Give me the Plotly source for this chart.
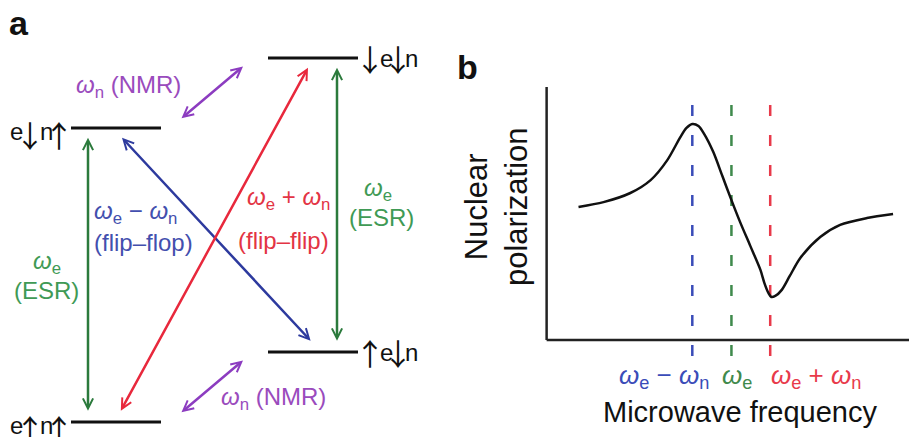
import plotly.graph_objects as go

W, H = 909, 437
FONT = "Liberation Sans, Arial, sans-serif"
ARROW_FONT = "Noto Sans CJK JP, DejaVu Sans, sans-serif"

# ---------------- Panel a: four electron/nuclear spin states ----------------
# Energies in units of the nuclear Zeeman splitting
omega_n = 1.0
omega_e = 4.2
state_labels = ["e↑n↑", "↑e↓n", "e↓n↑", "↓e↓n"]
state_energy = [0.0, omega_n, omega_e, omega_e + omega_n]
state_column = ["left", "right", "left", "right"]

# Transitions between the states (indices into the state lists)
trans_from = [0, 1, 1, 0, 2, 0]
trans_to = [2, 3, 2, 3, 3, 1]
trans_kind = ["ESR", "ESR", "flip-flop", "flip-flip", "NMR", "NMR"]
trans_x_from = [88, 337, 312, 120, 180, 180]
trans_x_to = [88, 337, 122, 308, 243, 243]

COLORS = {
    "ESR": "#2b7a3c",
    "flip-flop": "#2d3a9e",
    "flip-flip": "#e8283c",
    "NMR": "#8c3cc0",
}
TEXT_COLORS = {
    "ESR": "#3f9a55",
    "flip-flop": "#434fae",
    "flip-flip": "#e33444",
    "NMR": "#9a4bbd",
}

# ---------------- Panel b: DNP enhancement profile ----------------
freq = [8.8, 15.7, 23.1, 28.7, 33.3, 36.9, 38.6, 40.2, 41.9, 43.5, 46.0, 48.5,
        51.0, 53.4, 56.2, 59.0, 60.1, 61.2, 62.0, 63.1, 64.9, 67.1, 70.0, 75.5,
        81.0, 88.4, 95.6]
polarization = [52.6, 54.5, 58.1, 63.2, 71.1, 80.2, 83.8, 85.4, 84.6, 81.4, 74.3, 64.8,
                55.3, 46.6, 37.2, 27.7, 22.5, 18.6, 17.0, 17.4, 19.8, 25.3, 32.4,
                40.7, 45.5, 48.2, 49.8]
res_freq = [40.2, 51.0, 61.7]
res_labels = ["<i>ω</i><sub>e</sub> − <i>ω</i><sub>n</sub>",
              "<i>ω</i><sub>e</sub>",
              "<i>ω</i><sub>e</sub> + <i>ω</i><sub>n</sub>"]
RES_COLORS = ["#3a4cb8", "#3f8a4c", "#e83a4a"]


def px(x):
    return x / W


def py(y):
    return 1 - y / H


fig = go.Figure()

# Panel a coordinate frame: x in layout units, y = energy
E_BOTTOM = 422.0
E_SCALE = 70.0
fig.update_layout(
    xaxis=dict(domain=[0, 0.5], range=[0, W / 2], visible=False, fixedrange=True),
    yaxis=dict(domain=[0, 1], range=[(E_BOTTOM - H) / E_SCALE, E_BOTTOM / E_SCALE],
               visible=False, fixedrange=True),
)

col_span = {"left": (71, 161), "right": (268, 358)}
# character offsets of the state labels, measured from the nearest end of the level
char_offsets = {"left": [-55, -41, -25, -12], "right": [12, 28, 40, 53]}
letter_shift = {"left": -3, "right": 0}
arrow_shift = {"left": -6, "right": 0}
shapes = []
annotations = []

for lab, en, col in zip(state_labels, state_energy, state_column):
    x0, x1 = col_span[col]
    shapes.append(dict(type="line", xref="x", yref="y", x0=x0, x1=x1, y0=en, y1=en,
                       line=dict(color="#111111", width=3)))
    anchor = x0 if col == "left" else x1
    for ch, off in zip(lab, char_offsets[col]):
        is_arrow = ch in "↑↓"
        annotations.append(dict(
            x=anchor + off, y=en, xref="x", yref="y", text=ch,
            xanchor="center", yanchor="middle", showarrow=False,
            yshift=arrow_shift[col] if is_arrow else letter_shift[col],
            font=dict(family=ARROW_FONT if is_arrow else FONT,
                      size=30 if is_arrow else 24, color="#111111")))

for i0, i1, kind, xa, xb in zip(trans_from, trans_to, trans_kind, trans_x_from, trans_x_to):
    gap = 0.12 if kind == "NMR" else 0.14
    annotations.append(dict(
        x=xb, y=state_energy[i1] - gap, xref="x", yref="y",
        ax=xa, ay=state_energy[i0] + gap, axref="x", ayref="y",
        text="", showarrow=True, arrowside="end+start",
        arrowhead=5, startarrowhead=5, arrowsize=0.8, startarrowsize=0.8,
        arrowwidth=2.5, arrowcolor=COLORS[kind], standoff=0, startstandoff=0))

# Transition labels
w_e = "<i>ω</i><sub>e</sub>"
w_n = "<i>ω</i><sub>n</sub>"
trans_text = [
    (w_n + " (NMR)", 128, 86, "NMR"),
    (w_n + " (NMR)", 273, 398, "NMR"),
    (w_e + " − " + w_n, 135, 212, "flip-flop"),
    ("(flip–flop)", 143, 242, "flip-flop"),
    (w_e + " + " + w_n, 288, 198, "flip-flip"),
    ("(flip–flip)", 283, 240, "flip-flip"),
    (w_e, 378, 190, "ESR"),
    ("(ESR)", 381, 218, "ESR"),
    (w_e, 47, 262, "ESR"),
    ("(ESR)", 46, 290, "ESR"),
]
for txt, x, y, kind in trans_text:
    annotations.append(dict(x=px(x), y=py(y), xref="paper", yref="paper", text=txt,
                            xanchor="center", yanchor="middle", showarrow=False,
                            font=dict(family=FONT, size=24, color=TEXT_COLORS[kind])))

# Panel letters
annotations.append(dict(x=px(19), y=py(23), xref="paper", yref="paper", text="<b>a</b>",
                        xanchor="center", yanchor="middle", showarrow=False,
                        font=dict(family=FONT, size=34, color="#111111")))
annotations.append(dict(x=px(467), y=py(67), xref="paper", yref="paper", text="<b>b</b>",
                        xanchor="center", yanchor="middle", showarrow=False,
                        font=dict(family=FONT, size=34, color="#111111")))

# ---------------- Panel b axes ----------------
fig.update_layout(
    xaxis2=dict(domain=[543 / W, 1], range=[-1, 100], anchor="y2", visible=False,
                fixedrange=True),
    yaxis2=dict(domain=[py(362), py(87)], range=[-8.7, 100], anchor="x2", visible=False,
                fixedrange=True),
)

# axis lines
shapes.append(dict(type="line", xref="x2", yref="y2", x0=0, x1=0, y0=0, y1=100,
                   line=dict(color="#222222", width=2.5)))
shapes.append(dict(type="line", xref="x2", yref="y2", x0=0, x1=100, y0=0, y1=0,
                   line=dict(color="#222222", width=2.5)))

# resonance positions
for rx, c in zip(res_freq, RES_COLORS):
    shapes.append(dict(type="line", xref="x2", yref="y2", x0=rx, x1=rx, y0=92.9, y1=-7.1,
                       line=dict(color=c, width=2.5, dash="11px,19px"), layer="below"))

fig.add_trace(go.Scatter(x=freq, y=polarization, xaxis="x2", yaxis="y2", mode="lines",
                         line=dict(color="#111111", width=2.5, shape="spline", smoothing=0.8),
                         hoverinfo="skip", showlegend=False))

for lab, x, c in zip(res_labels, [664, 737, 816], RES_COLORS):
    annotations.append(dict(x=px(x), y=py(376), xref="paper", yref="paper", text=lab,
                            xanchor="center", yanchor="middle", showarrow=False,
                            font=dict(family=FONT, size=26, color=c)))

annotations.append(dict(x=px(740), y=py(412), xref="paper", yref="paper",
                        text="Microwave frequency", xanchor="center", yanchor="middle",
                        showarrow=False, font=dict(family=FONT, size=29, color="#111111")))
annotations.append(dict(x=px(497), y=py(207), xref="paper", yref="paper",
                        text="Nuclear<br>polarization", textangle=-90,
                        xanchor="center", yanchor="middle", showarrow=False,
                        font=dict(family=FONT, size=31, color="#111111")))

fig.update_layout(
    width=W, height=H,
    margin=dict(l=0, r=0, t=0, b=0),
    paper_bgcolor="white", plot_bgcolor="white",
    shapes=shapes, annotations=annotations,
    showlegend=False,
)

fig.write_html("out.html", config={"displayModeBar": False})
